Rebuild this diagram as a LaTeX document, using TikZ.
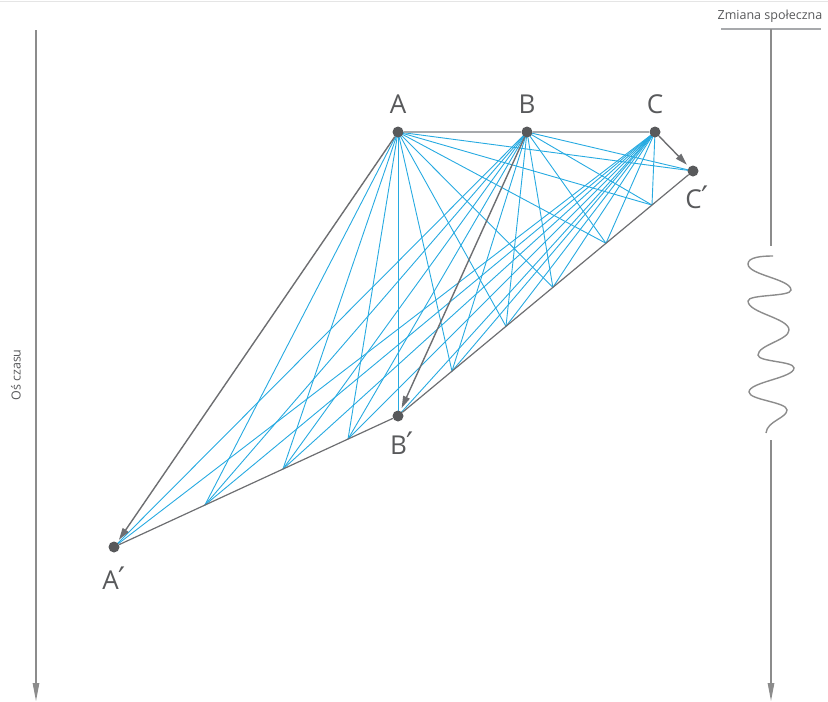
\documentclass[tikz,border=0pt]{standalone}
\usepackage{fontspec}
\setmainfont{Open Sans}
\newfontfamily\primef{DejaVu Sans}
\usetikzlibrary{arrows.meta,backgrounds,calc}
\definecolor{dotgray}{HTML}{58595B}
\definecolor{linegray}{HTML}{6D6E71}
\definecolor{lightline}{HTML}{A7A9AC}
\definecolor{axisgray}{HTML}{8C8C8C}
\definecolor{cyanline}{HTML}{27AAE1}
\begin{document}
\begin{tikzpicture}[x=1pt,y=-1pt,
  dot/.style={circle,fill=dotgray,inner sep=0pt,minimum size=11pt},
  lbl/.style={text=dotgray,inner sep=0pt,font=\fontsize{26}{26}\selectfont},
  pr/.style={},
  small/.style={text=dotgray,inner sep=0pt,font=\fontsize{12.5}{13}\selectfont},
  bline/.style={draw=cyanline,line width=0.9pt},
  gline/.style={draw=linegray,line width=1.2pt},
  arr/.style={draw=linegray,line width=1.4pt,shorten >=3pt,-{Triangle[length=12pt,width=7pt]}},
  axis/.style={draw=axisgray,line width=1.2pt},
  axarr/.style={-{Triangle[length=18pt,width=6.5pt]}},
  wave/.style={draw=axisgray,line width=1.4pt}]
\useasboundingbox (0,0) rectangle (828,702);
\draw[gray!20,line width=0.8pt] (0,1.5) -- (828,1.5);

% main points
\node[dot] (A) at (398,132) {};
\node[dot] (B) at (527,132) {};
\node[dot] (C) at (655,132) {};
\node[dot] (Cp) at (693,171) {};
\node[dot] (Bp) at (398,416) {};
\node[dot] (Ap) at (114,547) {};

% division points
\coordinate (p1) at ($(Ap.center)!0.32!(Bp.center)$);
\coordinate (p2) at ($(Ap.center)!0.595!(Bp.center)$);
\coordinate (p3) at ($(Ap.center)!0.824!(Bp.center)$);
\coordinate (q1) at ($(Bp.center)!0.183!(Cp.center)$);
\coordinate (q2) at ($(Bp.center)!0.366!(Cp.center)$);
\coordinate (q3) at ($(Bp.center)!0.525!(Cp.center)$);
\coordinate (q4) at ($(Bp.center)!0.705!(Cp.center)$);
\coordinate (q5) at ($(Bp.center)!0.861!(Cp.center)$);

\begin{scope}[on background layer]
  \foreach \t in {p1,p2,p3,Bp.center,q1,q2,q3,q4,q5,Cp.center}
    \draw[bline] (A.center) -- (\t);
  \foreach \t in {Ap.center,p1,p2,p3,q1,q2,q3,q4,q5,Cp.center}
    \draw[bline] (B.center) -- (\t);
  \foreach \t in {Ap.center,p1,p2,p3,Bp.center,q1,q2,q3,q4,q5}
    \draw[bline] (C.center) -- (\t);
  \draw[draw=lightline,line width=1.2pt] (A) -- (B) -- (C);
  \draw[gline] (Ap) -- (Bp) -- (Cp);
\end{scope}

\draw[arr] (A) -- (Ap);
\draw[arr] (B) -- (Bp);
\draw[arr] (C) -- (Cp);

% labels
\node[lbl] (lA) at (398,104) {A};
\node[lbl] (lB) at (527,104) {B};
\node[lbl] (lC) at (655,104) {C};
\node[lbl] (lAp) at (114,578) {A{\primef\fontsize{31}{31}\selectfont ′}};
\node[lbl] (lBp) at (402,443) {B{\primef\fontsize{31}{31}\selectfont ′}};
\node[lbl] (lCp) at (697,197) {C{\primef\fontsize{31}{31}\selectfont ′}};

% left axis
\coordinate (L0) at (36,30);
\coordinate (L1) at (36,701);
\draw[axis,axarr] (L0) -- (L1);
\node[small,rotate=90] (ltxt) at (16,375) {Oś czasu};

% right axis
\node[small] (rtxt) at (770,16) {Zmiana społeczna};
\coordinate (H0) at (721,29);
\coordinate (H1) at (821,29);
\draw[axis,draw=lightline] (H0) -- (H1);
\coordinate (R0) at (771,29);
\coordinate (R1) at (771,246);
\coordinate (R2) at (771,440);
\coordinate (R3) at (771,701);
\draw[axis] (R0) -- (R1);
\draw[axis,axarr] (R2) -- (R3);
\draw[wave] (773,256) .. controls (762,256) and (748,257) .. (748,264)
 .. controls (748,275) and (791,279) .. (791,290)
 .. controls (791,297) and (748,294) .. (748,301)
 .. controls (748,313) and (789,318) .. (789,330)
 .. controls (789,340) and (758,345) .. (758,355)
 .. controls (758,362) and (794,361) .. (794,368)
 .. controls (794,378) and (749,382) .. (749,392)
 .. controls (749,400) and (787,402) .. (787,410)
 .. controls (787,418) and (767,421) .. (766,433);
\end{tikzpicture}
\end{document}
